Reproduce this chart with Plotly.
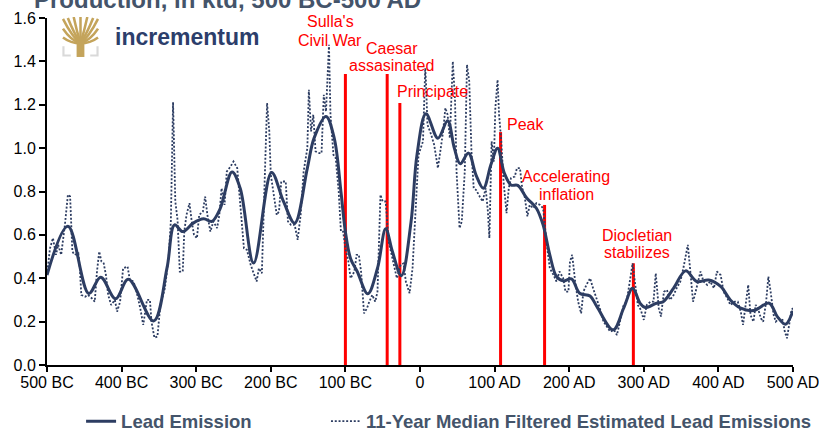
import base64
import plotly.graph_objects as go

# ---------------- data ----------------
smooth_years = [-500, -472, -444, -428, -408, -391, -357, -339, -329, -318, -304, -290, -279, -268,
                -252, -241, -223, -199, -183, -168, -151, -142, -126, -115, -106, -100, -93, -84,
                -70, -57, -46, -37, -25, -12, -4, 8, 24, 37, 46, 54, 65, 75, 85, 95, 104, 113,
                122, 131, 143, 156, 165, 174, 183, 192, 203, 214, 228, 237, 259, 273, 285, 295,
                302, 317, 326, 340, 356, 371, 387, 403, 416, 430, 447, 468, 479, 490, 500]
smooth_values = [0.415, 0.64, 0.33, 0.405, 0.305, 0.395, 0.203, 0.45, 0.646, 0.615, 0.654, 0.674,
                 0.662, 0.72, 0.89, 0.815, 0.47, 0.888, 0.754, 0.654, 0.908, 1.046, 1.146, 1.046,
                 0.80, 0.615, 0.49, 0.43, 0.328, 0.446, 0.628, 0.523, 0.412, 0.66, 0.97, 1.158,
                 1.046, 1.126, 1.0, 0.928, 0.977, 0.877, 0.815, 0.923, 1.0, 0.885, 0.83, 0.828,
                 0.77, 0.723, 0.646, 0.508, 0.408, 0.388, 0.397, 0.331, 0.318, 0.27, 0.162, 0.262,
                 0.354, 0.285, 0.265, 0.285, 0.292, 0.354, 0.434, 0.385, 0.392, 0.362, 0.3, 0.262,
                 0.251, 0.285, 0.223, 0.188, 0.25]

median_years = [-500, -496, -492, -488, -485, -481, -476, -472, -469, -466, -463, -458, -456, -454,
                -449, -445, -440, -436, -433, -430, -427, -424, -421, -418, -414, -409, -406, -402,
                -398, -392, -389, -384, -380, -375, -371, -366, -362, -360, -356, -352, -348, -342,
                -337, -334, -331, -328, -325, -322, -318, -316, -313, -309, -306, -303, -299, -296,
                -291, -288, -285, -281, -277, -272, -269, -266, -262, -259, -254, -250, -245, -241,
                -236, -232, -227, -223, -219, -216, -212, -209, -205, -202, -200, -196, -192, -189,
                -186, -180, -177, -173, -168, -164, -160, -156, -151, -149, -146, -143, -140, -135,
                -132, -129, -126, -122, -120, -116, -113, -109, -106, -103, -100, -96, -93, -88,
                -85, -82, -79, -75, -71, -68, -64, -60, -57, -53, -50, -46, -42, -39, -35, -31,
                -26, -22, -19, -14, -10, -5, -2, 4, 7, 8, 10, 15, 19, 24, 27, 31, 34, 37, 40, 44,
                47, 49, 53, 56, 60, 63, 66, 69, 72, 75, 80, 84, 88, 91, 93, 96, 99, 101, 104, 106,
                109, 112, 116, 119, 122, 127, 130, 134, 137, 140, 144, 147, 152, 156, 161, 165,
                170, 174, 179, 183, 187, 192, 195, 199, 201, 204, 208, 212, 216, 219, 223, 228,
                232, 237, 241, 246, 250, 255, 260, 264, 268, 273, 277, 282, 285, 288, 292, 296,
                300, 304, 309, 313, 316, 320, 323, 327, 331, 335, 340, 344, 349, 353, 357, 359,
                362, 366, 369, 372, 376, 380, 385, 389, 394, 398, 403, 407, 412, 416, 422, 426,
                430, 433, 436, 440, 443, 447, 450, 453, 457, 460, 464, 467, 470, 474, 477, 481,
                486, 489, 492, 495, 498, 500]
median_values = [0.415, 0.538, 0.585, 0.508, 0.554, 0.508, 0.646, 0.785, 0.777, 0.523, 0.508,
                 0.515, 0.446, 0.323, 0.315, 0.323, 0.308, 0.292, 0.431, 0.523, 0.477, 0.469,
                 0.415, 0.323, 0.277, 0.300, 0.246, 0.292, 0.446, 0.454, 0.392, 0.385, 0.338,
                 0.262, 0.185, 0.300, 0.300, 0.200, 0.126, 0.131, 0.277, 0.354, 0.492, 0.662,
                 1.212, 0.754, 0.669, 0.431, 0.431, 0.615, 0.692, 0.746, 0.662, 0.600, 0.585,
                 0.692, 0.708, 0.777, 0.692, 0.615, 0.662, 0.631, 0.692, 0.815, 0.738, 0.892,
                 0.915, 0.938, 0.908, 0.754, 0.538, 0.531, 0.462, 0.423, 0.385, 0.446, 0.423,
                 0.762, 1.208, 1.077, 0.877, 0.785, 0.692, 0.708, 0.846, 0.846, 0.662, 0.646,
                 0.646, 0.577, 0.692, 0.892, 1.000, 1.269, 1.077, 1.154, 0.985, 0.977, 0.977,
                 1.246, 1.169, 1.477, 1.154, 0.969, 0.954, 0.800, 0.615, 0.615, 0.538, 0.477,
                 0.400, 0.431, 0.508, 0.508, 0.431, 0.238, 0.262, 0.292, 0.323, 0.292, 0.338,
                 0.785, 0.754, 0.754, 0.569, 0.523, 0.462, 0.400, 0.462, 0.469, 0.385, 0.331,
                 0.446, 0.754, 0.969, 1.031, 1.369, 1.308, 1.108, 1.062, 1.015, 0.908, 0.985,
                 1.077, 1.185, 1.154, 1.046, 1.400, 1.215, 0.892, 0.631, 0.662, 0.892, 1.385,
                 1.308, 0.985, 0.815, 0.808, 0.777, 0.754, 0.815, 0.708, 0.585, 1.031, 0.938,
                 1.185, 1.315, 1.154, 1.031, 0.846, 0.700, 0.815, 0.862, 0.869, 0.908, 0.908,
                 0.815, 0.785, 0.685, 0.738, 0.723, 0.746, 0.738, 0.723, 0.554, 0.446, 0.415,
                 0.385, 0.431, 0.400, 0.338, 0.338, 0.477, 0.508, 0.385, 0.292, 0.238, 0.338,
                 0.369, 0.400, 0.354, 0.308, 0.262, 0.200, 0.177, 0.154, 0.162, 0.138, 0.200,
                 0.277, 0.292, 0.400, 0.469, 0.385, 0.277, 0.254, 0.208, 0.277, 0.292, 0.292,
                 0.423, 0.262, 0.223, 0.338, 0.346, 0.300, 0.323, 0.354, 0.385, 0.446, 0.508,
                 0.554, 0.446, 0.292, 0.331, 0.369, 0.431, 0.385, 0.369, 0.385, 0.354, 0.431,
                 0.415, 0.338, 0.308, 0.277, 0.292, 0.292, 0.246, 0.185, 0.262, 0.369, 0.231,
                 0.200, 0.277, 0.262, 0.215, 0.200, 0.292, 0.408, 0.338, 0.231, 0.200, 0.215,
                 0.208, 0.154, 0.123, 0.200, 0.254, 0.262]

event_years = [-100, -44, -27, 108, 167, 286]
event_heights = [1.342, 1.342, 1.208, 1.074, 0.738, 0.469]
event_labels = [["Sulla's", "Civil War"], ["Caesar", "assasinated"], ["Principate"], ["Peak"],
                ["Accelerating", "inflation"], ["Diocletian", "stabilizes"]]
# label anchor positions (x in years, y in axis units per line)
label_x = [-120, -38, 17, 142, 196, 291]
label_y = [[1.583, 1.498], [1.461, 1.383], [1.26], [1.111], [0.868, 0.788], [0.599, 0.518]]

x_tickvals = [-500, -400, -300, -200, -100, 0, 100, 200, 300, 400, 500]
x_ticktext = ["500 BC", "400 BC", "300 BC", "200 BC", "100 BC", "0",
              "100 AD", "200 AD", "300 AD", "400 AD", "500 AD"]
y_tickvals = [0.0, 0.2, 0.4, 0.6, 0.8, 1.0, 1.2, 1.4, 1.6]

title_text = "Production, in ktd, 500 BC-500 AD"
series_names = ["Lead Emission", "11-Year Median Filtered Estimated Lead Emissions"]

# ---------------- style ----------------
FONT = "Liberation Sans, Arial, sans-serif"
NAVY = "#2D3D62"
TEXTBLUE = "#44546A"
RED = "#FF0000"

fig = go.Figure()

ev_x, ev_y = [], []
for yr, h in zip(event_years, event_heights):
    ev_x += [yr, yr, None]
    ev_y += [0, h, None]
fig.add_trace(go.Scatter(x=ev_x, y=ev_y, mode="lines", line=dict(color=RED, width=3),
                         showlegend=False, hoverinfo="skip", cliponaxis=False))
fig.add_trace(go.Scatter(x=median_years, y=median_values, mode="lines", name=series_names[1],
                         legend="legend2",
                         line=dict(color=NAVY, width=1.8, dash="2px,1.8px")))
fig.add_trace(go.Scatter(x=smooth_years, y=smooth_values, mode="lines", name=series_names[0],
                         legend="legend",
                         line=dict(color=NAVY, width=3, shape="spline", smoothing=1.0)))

annotations = []
for lines, lx, lys in zip(event_labels, label_x, label_y):
    for txt, ly in zip(lines, lys):
        annotations.append(dict(x=lx, y=ly, xref="x", yref="y", text=txt, showarrow=False,
                                xanchor="center", yanchor="middle",
                                font=dict(family=FONT, size=16, color=RED)))
annotations.append(dict(x=-0.02, y=1.053, xref="paper", yref="paper", text=title_text,
                        showarrow=False, xanchor="left", yanchor="middle",
                        font=dict(family=FONT, size=24, color=TEXTBLUE, weight="bold")))
annotations.append(dict(x=0.088, y=0.945, xref="paper", yref="paper", text="incrementum",
                        showarrow=False, xanchor="left", yanchor="middle",
                        font=dict(family=FONT, size=23, color="#2C3E6B", weight="bold")))

logo_svg = """<svg xmlns='http://www.w3.org/2000/svg' width='38' height='41' viewBox='0 0 38 41'>
<g stroke='#C4A45B' stroke-width='2.6' fill='none' stroke-linecap='butt'>
<path d='M19 27 Q10 20 1 2'/><path d='M19 27 Q12 16 6 1'/><path d='M19 27 Q15 14 12 0'/>
<path d='M19 27 L19 0'/><path d='M19 27 Q23 14 26 0'/><path d='M19 27 Q26 16 32 1'/>
<path d='M19 27 Q28 20 37 2'/><path d='M19 27 Q9 24 1 12'/><path d='M19 27 Q29 24 37 12'/>
<path d='M19 27 Q9 27 1 21'/><path d='M19 27 Q29 27 37 21'/>
</g>
<rect x='15' y='24' width='8' height='17' fill='#C4A45B'/>
<path d='M1.5 30 L1.5 39.5 L9 39.5' stroke='#D9D9D9' stroke-width='2.2' fill='none'/>
<path d='M36.5 30 L36.5 39.5 L29 39.5' stroke='#D9D9D9' stroke-width='2.2' fill='none'/>
</svg>"""
logo_uri = "data:image/svg+xml;base64," + base64.b64encode(logo_svg.encode()).decode()

legend_font = dict(family=FONT, size=18.5, color=TEXTBLUE, weight="bold")

fig.update_layout(
    width=819, height=432,
    margin=dict(l=47, r=26, t=18, b=67, autoexpand=False),
    paper_bgcolor="white", plot_bgcolor="white",
    font=dict(family=FONT, size=16, color="black"),
    showlegend=True,
    legend=dict(orientation="h", x=0.099, xanchor="left", xref="container",
                y=0.024, yanchor="middle", yref="container",
                font=legend_font, bgcolor="rgba(0,0,0,0)"),
    legend2=dict(orientation="h", x=0.398, xanchor="left", xref="container",
                 y=0.024, yanchor="middle", yref="container",
                 font=legend_font, bgcolor="rgba(0,0,0,0)"),
    annotations=annotations,
    images=[dict(source=logo_uri, xref="paper", yref="paper", x=0.0201, y=1.003,
                 sizex=0.0496, sizey=0.1153, sizing="stretch", xanchor="left", yanchor="top",
                 layer="above")],
    xaxis=dict(range=[-500, 500], tickvals=x_tickvals, ticktext=x_ticktext, showgrid=False,
               zeroline=False, showline=True, linecolor="black", linewidth=2, ticks="outside",
               ticklen=5, tickwidth=2, tickcolor="black", tickfont=dict(size=16),
               ticklabeloverflow="allow", ticklabelstandoff=-3),
    yaxis=dict(range=[0, 1.6], tickvals=y_tickvals, tickformat=".1f", showgrid=False,
               zeroline=False, showline=True, linecolor="black", linewidth=2, ticks="outside",
               ticklen=6, tickwidth=2, tickcolor="black", tickfont=dict(size=16),
               ticklabeloverflow="allow"),
)

fig.write_html("out.html", config={"displayModeBar": False},
               post_script="document.body.style.margin='0px';document.body.style.overflow='hidden';")
